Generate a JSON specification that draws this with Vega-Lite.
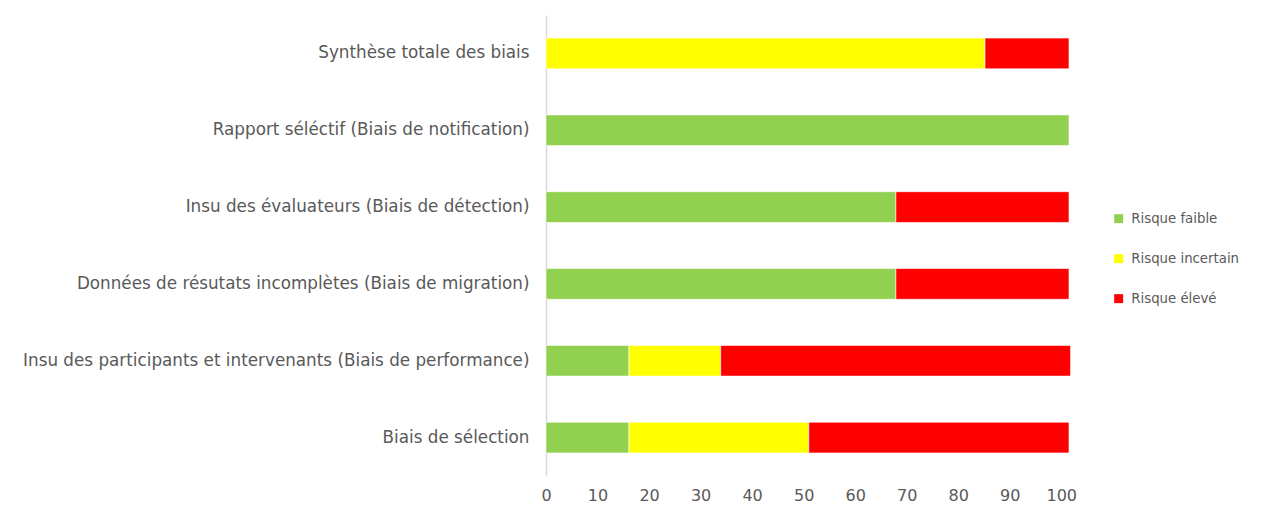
{
  "$schema": "https://vega.github.io/schema/vega-lite/v6.json",
  "autosize": {"type": "none"},
  "padding": {"left": 546, "top": 15, "right": 200, "bottom": 39},
  "width": 523,
  "height": 461,
  "background": "#ffffff",
  "config": {
    "view": {"stroke": null},
    "font": "DejaVu Sans"
  },
  "data": {
    "values": [
      {"critere": "Synthèse totale des biais", "risque": "Risque faible", "ordre": 1, "pct": 0},
      {"critere": "Synthèse totale des biais", "risque": "Risque incertain", "ordre": 2, "pct": 85.2},
      {"critere": "Synthèse totale des biais", "risque": "Risque élevé", "ordre": 3, "pct": 16.3},
      {"critere": "Rapport séléctif (Biais de notification)", "risque": "Risque faible", "ordre": 1, "pct": 101.5},
      {"critere": "Insu des évaluateurs (Biais de détection)", "risque": "Risque faible", "ordre": 1, "pct": 67.9},
      {"critere": "Insu des évaluateurs (Biais de détection)", "risque": "Risque élevé", "ordre": 3, "pct": 33.6},
      {"critere": "Données de résutats incomplètes (Biais de migration)", "risque": "Risque faible", "ordre": 1, "pct": 67.9},
      {"critere": "Données de résutats incomplètes (Biais de migration)", "risque": "Risque élevé", "ordre": 3, "pct": 33.6},
      {"critere": "Insu des participants et intervenants (Biais de performance)", "risque": "Risque faible", "ordre": 1, "pct": 16.1},
      {"critere": "Insu des participants et intervenants (Biais de performance)", "risque": "Risque incertain", "ordre": 2, "pct": 17.8},
      {"critere": "Insu des participants et intervenants (Biais de performance)", "risque": "Risque élevé", "ordre": 3, "pct": 67.9},
      {"critere": "Biais de sélection", "risque": "Risque faible", "ordre": 1, "pct": 16.1},
      {"critere": "Biais de sélection", "risque": "Risque incertain", "ordre": 2, "pct": 34.9},
      {"critere": "Biais de sélection", "risque": "Risque élevé", "ordre": 3, "pct": 50.5}
    ]
  },
  "mark": {"type": "bar", "stroke": "#ffffff", "strokeWidth": 0.6},
  "encoding": {
    "y": {
      "field": "critere",
      "type": "nominal",
      "sort": [
        "Synthèse totale des biais",
        "Rapport séléctif (Biais de notification)",
        "Insu des évaluateurs (Biais de détection)",
        "Données de résutats incomplètes (Biais de migration)",
        "Insu des participants et intervenants (Biais de performance)",
        "Biais de sélection"
      ],
      "scale": {"paddingInner": 0.6, "paddingOuter": 0.3},
      "axis": {
        "title": null,
        "ticks": false,
        "labelPadding": 17,
        "labelFontSize": 16.8,
        "labelColor": "#595959",
        "labelLimit": 600,
        "domainColor": "#d9d9d9",
        "domainWidth": 1.5
      }
    },
    "x": {
      "field": "pct",
      "type": "quantitative",
      "stack": "zero",
      "scale": {"domain": [0, 101.5], "nice": false, "zero": true},
      "axis": {
        "title": null,
        "values": [0, 10, 20, 30, 40, 50, 60, 70, 80, 90, 100],
        "grid": false,
        "ticks": false,
        "domain": false,
        "labelPadding": 11,
        "labelFontSize": 16,
        "labelColor": "#595959",
        "labelFlush": false
      }
    },
    "color": {
      "field": "risque",
      "type": "nominal",
      "scale": {
        "domain": ["Risque faible", "Risque incertain", "Risque élevé"],
        "range": ["#92D050", "#FFFF00", "#FF0000"]
      },
      "legend": {
        "title": null,
        "orient": "none",
        "legendX": 566,
        "legendY": 197,
        "symbolType": "square",
        "symbolSize": 80,
        "symbolStrokeWidth": 0,
        "labelFontSize": 13.3,
        "labelColor": "#595959",
        "labelOffset": 6,
        "rowPadding": 26,
        "padding": 0
      }
    },
    "order": {"field": "ordre", "type": "quantitative"}
  }
}
